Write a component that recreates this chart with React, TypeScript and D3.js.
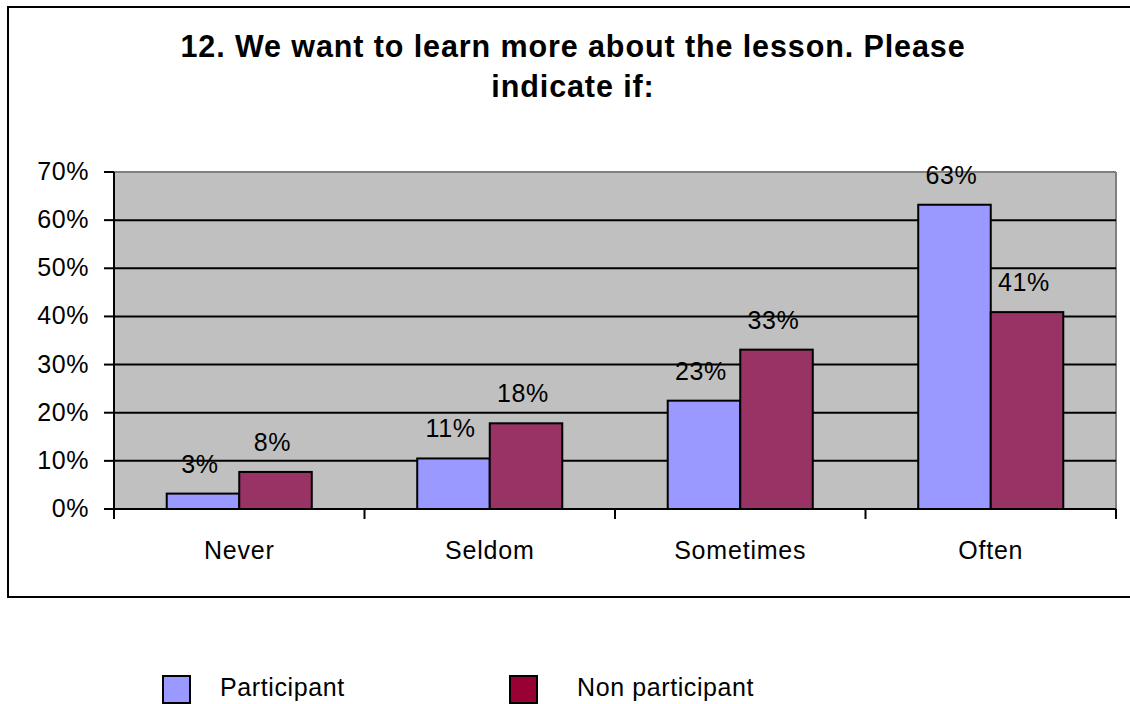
import React from "react";
import * as d3 from "d3";

const title = ["12. We want to learn more about the lesson. Please", "indicate if:"];
const categories = ["Never", "Seldom", "Sometimes", "Often"];
const seriesNames = ["Participant", "Non participant"];
const participant = [0.032, 0.105, 0.225, 0.632];
const nonParticipant = [0.077, 0.178, 0.331, 0.409];
const participantLabels = ["3%", "11%", "23%", "63%"];
const nonParticipantLabels = ["8%", "18%", "33%", "41%"];
const yTicks = [0, 0.1, 0.2, 0.3, 0.4, 0.5, 0.6, 0.7];

const W = 1130;
const H = 704;
const plot = { left: 114, right: 1116, top: 172, bottom: 509 };
const barColors = ["#9999FF", "#993366"];
const legendColors = ["#9999FF", "#990033"];
const legendX = [163, 510];
const legendTextX = [220, 577];
const FONT = "Arial, 'Liberation Sans', sans-serif";

export default function App() {
  const x = d3.scaleBand<string>().domain(categories).range([plot.left, plot.right]).padding(0);
  const xs = d3
    .scaleBand<string>()
    .domain(seriesNames)
    .range([0, x.bandwidth()])
    .paddingInner(0)
    .paddingOuter(0.727);
  const y = d3.scaleLinear().domain([0, 0.7]).range([plot.bottom, plot.top]);
  const fmt = d3.format(".0%");

  const series = [
    { name: seriesNames[0], values: participant, labels: participantLabels, color: barColors[0] },
    { name: seriesNames[1], values: nonParticipant, labels: nonParticipantLabels, color: barColors[1] },
  ];

  const boundaries = [...categories.map((c) => x(c) as number), plot.right];

  return (
    <svg
      width={W}
      height={H}
      style={{ position: "absolute", left: 0, top: 0, background: "#fff" }}
      fontFamily={FONT}
    >
      {/* outer chart border */}
      <rect x={8} y={7} width={1140} height={590} fill="#fff" stroke="#000" strokeWidth={2} />

      {/* title */}
      {title.map((t, i) => (
        <text
          key={i}
          x={573}
          y={57 + i * 40}
          textAnchor="middle"
          fontSize={30.5}
          fontWeight="bold"
          letterSpacing={0.9}
          fill="#000"
        >
          {t}
        </text>
      ))}

      {/* plot area */}
      <rect x={plot.left} y={plot.top} width={plot.right - plot.left} height={plot.bottom - plot.top} fill="#C0C0C0" />
      <line x1={plot.left} x2={plot.right} y1={plot.top} y2={plot.top} stroke="#808080" strokeWidth={2} />
      <line x1={plot.right} x2={plot.right} y1={plot.top} y2={plot.bottom} stroke="#808080" strokeWidth={2} />

      {/* gridlines */}
      {yTicks
        .filter((t) => t > 0 && t < 0.7)
        .map((t) => (
          <line key={t} x1={plot.left} x2={plot.right} y1={y(t)} y2={y(t)} stroke="#000" strokeWidth={2} />
        ))}

      {/* bars */}
      {series.map((s) =>
        categories.map((c, i) => (
          <rect
            key={s.name + c}
            x={(x(c) as number) + (xs(s.name) as number)}
            y={y(s.values[i])}
            width={xs.bandwidth()}
            height={plot.bottom - y(s.values[i])}
            fill={s.color}
            stroke="#000"
            strokeWidth={2}
          />
        ))
      )}

      {/* axes */}
      <line x1={plot.left} x2={plot.left} y1={plot.top} y2={plot.bottom + 10} stroke="#000" strokeWidth={2} />
      <line x1={plot.left} x2={plot.right} y1={plot.bottom} y2={plot.bottom} stroke="#000" strokeWidth={2} />

      {/* y ticks */}
      {yTicks.map((t) => (
        <g key={t}>
          <line x1={plot.left - 10} x2={plot.left} y1={y(t)} y2={y(t)} stroke="#000" strokeWidth={2} />
          <text x={89} y={y(t) + 8} textAnchor="end" fontSize={25} letterSpacing={0.6} fill="#000">
            {fmt(t)}
          </text>
        </g>
      ))}

      {/* x ticks */}
      {boundaries.map((b, i) => (
        <line key={i} x1={b} x2={b} y1={plot.bottom} y2={plot.bottom + 10} stroke="#000" strokeWidth={2} />
      ))}
      {categories.map((c) => (
        <text
          key={c}
          x={(x(c) as number) + x.bandwidth() / 2}
          y={plot.bottom + 50}
          textAnchor="middle"
          fontSize={25}
          letterSpacing={0.8}
          fill="#000"
        >
          {c}
        </text>
      ))}

      {/* data labels */}
      {series.map((s) =>
        categories.map((c, i) => (
          <text
            key={"l" + s.name + c}
            x={(x(c) as number) + (xs(s.name) as number) + xs.bandwidth() / 2 - 3}
            y={y(s.values[i]) - 21}
            textAnchor="middle"
            fontSize={25}
            letterSpacing={0.6}
            fill="#000"
          >
            {s.labels[i]}
          </text>
        ))
      )}

      {/* legend */}
      {legendX.map((lx, i) => (
        <g key={i}>
          <rect x={lx} y={676} width={27} height={27} fill={legendColors[i]} stroke="#000" strokeWidth={2} />
          <text x={legendTextX[i]} y={696} fontSize={25} letterSpacing={0.6} fill="#000">
            {seriesNames[i]}
          </text>
        </g>
      ))}
    </svg>
  );
}
